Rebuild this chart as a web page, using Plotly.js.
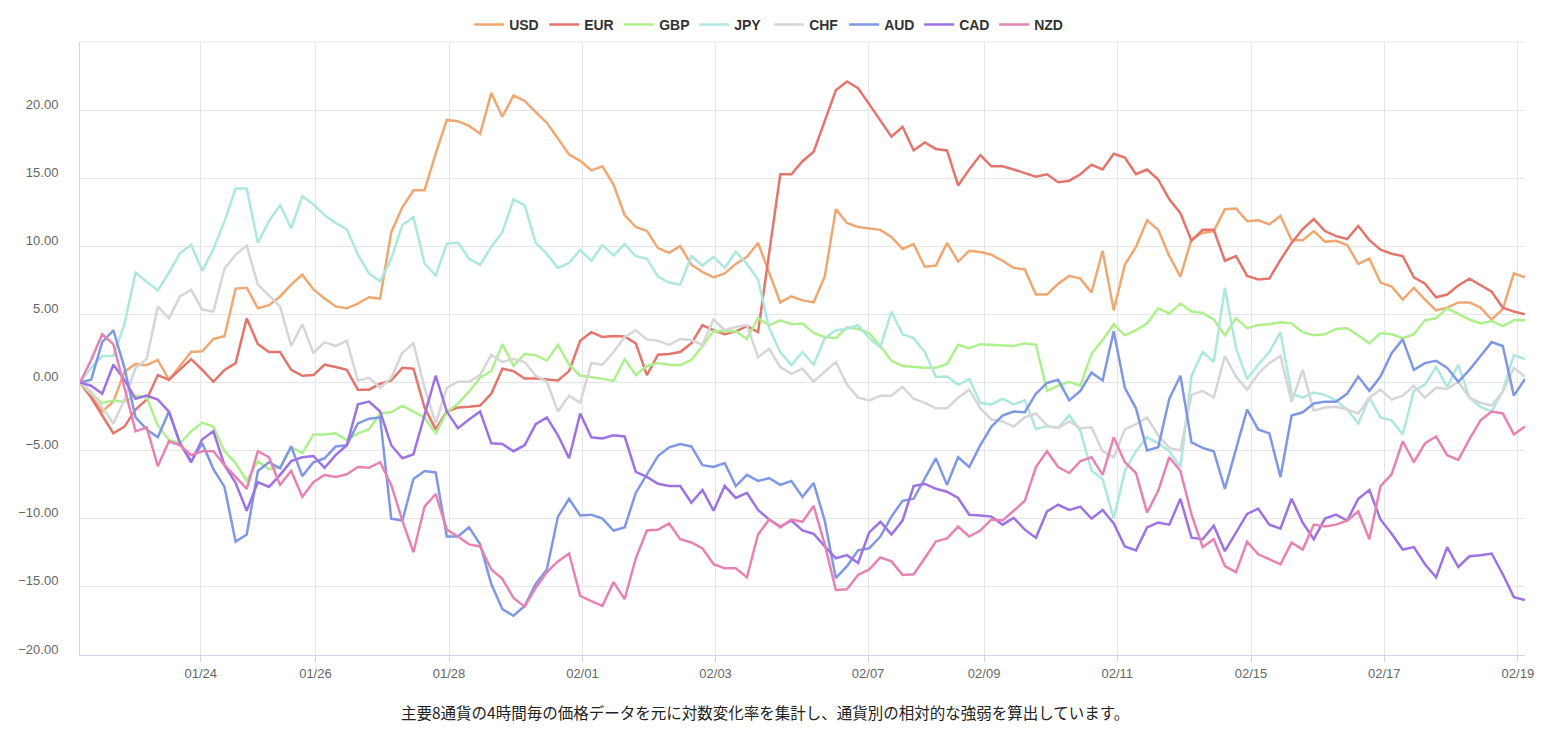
<!DOCTYPE html>
<html>
<head>
<meta charset="utf-8">
<script src="https://cdn.plot.ly/plotly-3.0.1.min.js"></script>
<style>
html,body{margin:0;padding:0;background:#fff;}
#chart{width:1546px;height:736px;}
</style>
</head>
<body>
<div id="chart"></div>
<script>
// 4-hour currency strength index values
const currencies = ["USD","EUR","GBP","JPY","CHF","AUD","CAD","NZD"];

const usd = [0,-0.96,-2.13,-1.4,0.79,1.37,1.28,1.66,0.2,1.22,2.24,2.3,3.2,3.4,6.9,6.96,5.45,5.68,6.32,7.19,7.92,6.84,6.17,5.59,5.45,5.8,6.26,6.17,11.04,12.87,14.12,14.12,16.8,19.28,19.19,18.84,18.26,21.26,19.51,21.08,20.68,19.86,19.07,17.91,16.74,16.28,15.58,15.87,14.53,12.3,11.42,11.13,9.87,9.52,10.02,8.65,8.12,7.72,8.01,8.71,9.23,10.25,8.07,5.88,6.32,6.03,5.88,7.78,12.73,11.71,11.42,11.33,11.21,10.69,9.81,10.16,8.5,8.59,10.25,8.88,9.67,9.58,9.38,8.94,8.42,8.3,6.46,6.46,7.25,7.83,7.63,6.61,9.67,5.3,8.65,9.96,11.91,11.21,9.29,7.78,10.54,10.98,11.12,12.73,12.78,11.85,11.91,11.62,12.23,10.45,10.45,11.12,10.34,10.4,10.1,8.71,9.09,7.34,7.05,6.09,6.96,6.09,5.3,5.5,5.88,5.88,5.5,4.63,5.39,8.01,7.72];

const eur = [0,-1.1,-2.42,-3.73,-3.23,-1.98,-1.25,0.55,0.2,0.93,1.72,0.93,0.06,0.93,1.43,4.72,2.82,2.24,2.24,0.93,0.5,0.55,1.31,1.14,0.93,-0.52,-0.52,-0.09,0.15,1.08,1.02,-1.83,-3.44,-2.13,-1.83,-1.78,-1.69,-0.82,1.02,0.84,0.29,0.29,0.2,0.15,0.84,3.06,3.7,3.35,3.41,3.38,2.88,0.55,2.04,2.1,2.24,2.88,4.22,3.84,3.55,3.76,4.14,3.7,9.5,15.29,15.29,16.25,16.95,19.28,21.46,22.1,21.61,20.44,19.28,18.05,18.78,17.04,17.62,17.15,17.04,14.47,15.64,16.7,15.87,15.87,15.64,15.35,15.11,15.29,14.71,14.82,15.29,15.99,15.64,16.8,16.51,15.29,15.64,14.91,13.45,12.43,10.4,11.21,11.21,8.94,9.29,7.83,7.57,7.63,9.0,10.25,11.27,12.0,11.12,10.75,10.54,11.5,10.45,9.76,9.46,9.29,7.72,7.25,6.26,6.46,7.13,7.63,7.13,6.67,5.5,5.21,5.01];

const gbp = [0,-0.82,-1.49,-1.31,-1.4,-0.96,-1.1,-3.15,-4.22,-4.46,-3.58,-2.94,-3.23,-5.04,-5.91,-7.22,-5.77,-6.35,-6.2,-4.75,-5.18,-3.81,-3.81,-3.73,-4.22,-3.73,-3.44,-2.27,-2.18,-1.69,-2.13,-2.56,-3.73,-2.18,-1.54,-0.67,0.35,0.84,2.82,1.22,2.1,2.01,1.6,2.77,1.31,0.5,0.41,0.26,0.12,1.72,0.55,1.22,1.43,1.31,1.28,1.66,2.68,3.79,3.76,3.76,3.2,4.72,4.22,4.57,4.28,4.34,3.64,3.35,3.26,4.05,3.93,3.64,2.68,1.6,1.22,1.14,1.08,1.08,1.37,2.77,2.53,2.82,2.77,2.77,2.68,2.88,2.77,-0.61,-0.23,0.06,-0.23,2.1,3.12,4.28,3.47,3.84,4.34,5.45,5.07,5.8,5.21,5.1,4.63,3.47,4.72,3.99,4.22,4.28,4.43,4.34,3.7,3.47,3.55,3.93,3.99,3.47,2.88,3.64,3.55,3.26,3.55,4.57,4.72,5.45,5.01,4.63,4.34,4.51,4.14,4.57,4.57];

const jpy = [0,1.08,1.95,1.95,4.3,8.07,7.4,6.76,8.07,9.5,10.1,8.2,9.8,11.85,14.24,14.24,10.25,11.85,13.02,11.33,13.69,13.07,12.29,11.71,11.27,9.38,8.01,7.43,9.09,11.56,12.14,8.74,7.86,10.19,10.28,9.09,8.65,9.96,11.04,13.45,13.02,10.25,9.44,8.42,8.79,9.73,8.94,10.1,9.32,10.16,9.29,9.09,7.78,7.34,7.19,9.29,8.59,9.23,8.42,9.61,8.71,7.57,3.99,2.24,1.28,2.24,1.31,3.26,3.84,3.93,4.22,3.26,2.59,5.21,3.55,3.26,2.24,0.41,0.44,-0.17,0.26,-1.5,-1.6,-1.19,-1.6,-1.31,-3.41,-3.2,-3.32,-2.39,-3.55,-6.46,-7.1,-9.99,-6.49,-5.04,-4.02,-4.46,-5.04,-6.2,0.5,2.24,1.51,6.96,2.53,0.26,1.31,2.24,3.7,-0.82,-1.11,-0.73,-0.9,-1.31,-1.98,-3.0,-1.11,-2.56,-2.77,-3.81,-0.61,-0.15,1.14,-0.32,1.31,-1.11,-1.78,-2.13,-0.61,2.01,1.72];

const chf = [0,-0.67,-1.83,-3.0,-1.25,1.08,1.72,5.59,4.72,6.32,6.81,5.36,5.21,8.36,9.38,10.05,7.19,6.38,5.59,2.68,4.28,2.18,2.97,2.68,3.06,0.15,0.35,-0.38,0.35,2.18,2.88,-0.38,-3.0,-0.38,0.06,0.06,0.55,2.04,1.51,1.72,1.51,0.5,0.06,-2.13,-0.96,-1.49,1.43,1.31,2.24,3.35,3.84,3.17,3.06,2.77,3.2,3.12,2.77,4.63,3.84,4.08,4.22,1.86,2.48,1.14,0.64,1.02,0.06,0.79,1.51,-0.15,-1.11,-1.31,-0.96,-0.96,-0.32,-1.19,-1.49,-1.89,-1.89,-1.11,-0.52,-1.9,-2.71,-2.85,-3.23,-2.56,-2.27,-3.15,-3.35,-2.85,-3.35,-3.29,-5.04,-5.48,-3.44,-3.06,-2.56,-3.87,-4.8,-4.98,-0.9,-0.61,-1.11,1.95,0.44,-0.52,0.64,1.43,1.95,-1.4,0.93,-2.07,-1.83,-1.78,-1.98,-2.27,-1.11,-0.52,-1.25,-0.96,-0.23,-1.11,-0.38,-0.47,0.06,-1.11,-1.49,-1.69,-0.67,1.08,0.44];

const aud = [0,0.2,2.97,3.84,1.08,-2.56,-3.44,-4.02,-2.13,-4.46,-5.77,-4.46,-6.35,-7.66,-11.68,-11.15,-6.49,-5.85,-6.29,-4.69,-6.87,-5.85,-5.56,-4.69,-4.6,-3.0,-2.65,-2.56,-9.99,-10.13,-7.08,-6.49,-6.6,-11.3,-11.3,-10.63,-11.88,-14.79,-16.63,-17.12,-16.4,-14.79,-13.72,-9.84,-8.53,-9.76,-9.7,-9.99,-10.86,-10.63,-8.1,-6.73,-5.39,-4.75,-4.51,-4.69,-6.06,-6.2,-5.91,-7.6,-6.78,-7.22,-7.02,-7.51,-7.22,-8.39,-7.37,-10.13,-14.36,-13.48,-12.32,-12.17,-11.3,-9.84,-8.68,-8.53,-7.08,-5.56,-7.51,-5.48,-6.2,-4.6,-3.23,-2.42,-2.13,-2.18,-0.82,-0.03,0.2,-1.31,-0.61,0.73,0.15,3.76,-0.38,-1.89,-4.98,-4.75,-1.19,0.5,-4.4,-4.8,-5.04,-7.8,-4.89,-1.98,-3.44,-3.73,-6.93,-2.42,-2.18,-1.54,-1.4,-1.4,-0.82,0.44,-0.61,0.44,2.15,3.17,0.93,1.43,1.6,1.08,0.06,0.93,1.95,2.97,2.68,-0.96,0.26];

const cad = [0,-0.23,-0.82,1.31,0.2,-1.19,-0.96,-1.25,-2.13,-4.46,-5.85,-4.16,-3.58,-6.06,-7.37,-9.41,-7.31,-7.66,-6.78,-5.77,-5.48,-5.39,-6.26,-5.33,-4.6,-1.6,-1.4,-2.13,-4.6,-5.56,-5.27,-2.42,0.5,-2.13,-3.35,-2.71,-2.13,-4.46,-4.51,-5.04,-4.6,-3.06,-2.56,-3.87,-5.56,-2.27,-4.02,-4.11,-3.87,-3.96,-6.55,-6.93,-7.43,-7.6,-7.6,-8.82,-7.89,-9.41,-7.6,-8.47,-8.1,-9.35,-10.05,-10.57,-10.13,-10.86,-11.1,-12.03,-12.9,-12.67,-13.25,-11.0,-10.22,-11.15,-10.13,-7.6,-7.43,-7.8,-8.01,-8.47,-9.7,-9.76,-9.84,-10.43,-9.93,-10.8,-11.39,-9.46,-8.97,-9.35,-9.11,-9.99,-9.35,-10.34,-12.03,-12.32,-10.63,-10.28,-10.43,-8.53,-11.39,-11.5,-10.51,-12.38,-11.0,-9.64,-9.26,-10.43,-10.72,-8.53,-10.28,-11.5,-9.99,-9.7,-10.13,-8.53,-7.89,-10.05,-11.1,-12.26,-12.08,-13.34,-14.3,-12.08,-13.54,-12.75,-12.67,-12.55,-14.07,-15.75,-15.96];

const nzd = [0,1.66,3.55,2.82,-0.38,-3.58,-3.29,-6.14,-4.31,-4.6,-5.33,-5.04,-5.04,-6.06,-6.93,-7.8,-5.04,-5.48,-7.51,-6.49,-8.39,-7.31,-6.78,-6.93,-6.73,-6.2,-6.26,-5.85,-7.51,-10.13,-12.46,-9.11,-8.18,-10.8,-11.3,-11.88,-12.03,-13.72,-14.41,-15.81,-16.45,-15.08,-13.92,-13.13,-12.55,-15.66,-16.04,-16.4,-14.65,-15.9,-12.9,-10.86,-10.8,-10.34,-11.5,-11.74,-12.17,-13.34,-13.63,-13.63,-14.3,-11.15,-10.05,-10.63,-10.05,-10.22,-9.06,-11.88,-15.23,-15.17,-14.12,-13.72,-12.84,-13.13,-14.12,-14.07,-12.9,-11.68,-11.44,-10.57,-11.3,-10.86,-10.05,-10.13,-9.41,-8.68,-6.2,-5.04,-6.2,-6.64,-5.77,-5.48,-6.78,-4.02,-5.85,-6.64,-9.55,-7.95,-5.48,-6.49,-9.7,-12.08,-11.5,-13.48,-13.92,-11.68,-12.61,-12.96,-13.34,-11.74,-12.26,-10.43,-10.57,-10.43,-10.13,-9.46,-11.5,-7.6,-6.73,-4.31,-5.85,-4.46,-3.96,-5.33,-5.68,-4.16,-2.77,-2.13,-2.27,-3.81,-3.23];

// date tick labels and their positions on the 4-hour sample index
const tickLabels = ["01/24","01/26","01/28","02/01","02/03","02/07","02/09","02/11","02/15","02/17","02/19"];
const tickPos = [10.86,21.18,33.2,45.2,57.18,70.9,81.34,93.32,105.35,117.34,129.36];

const colors = ["#efa872","#e4756c","#aef08c","#ade8de","#d6d6d6","#7f98e4","#9e72e3","#e683b4"];
const series = [usd, eur, gbp, jpy, chf, aud, cad, nzd];

const traces = series.map((vals, k) => ({
  type: "scatter",
  mode: "lines",
  name: currencies[k],
  x: vals.map((_, i) => i),
  y: vals,
  line: {color: colors[k], width: 2.5},
  hovertemplate: "%{y:.2f}<extra>" + currencies[k] + "</extra>"
}));

const layout = {
  width: 1546,
  height: 736,
  margin: {l: 80, r: 21, t: 42, b: 81},
  paper_bgcolor: "#ffffff",
  plot_bgcolor: "#ffffff",
  font: {family: "Liberation Sans, Arial, sans-serif", color: "#666666", size: 13},
  showlegend: true,
  legend: {
    orientation: "h",
    xref: "container", yref: "container",
    x: 0.4975, xanchor: "center",
    y: 0.966, yanchor: "middle",
    font: {size: 14, color: "#333333", weight: "bold", family: "Liberation Sans, Arial, sans-serif"},
    itemwidth: 30,
    entrywidth: 30,
    traceorder: "normal",
    bgcolor: "rgba(0,0,0,0)"
  },
  xaxis: {
    type: "linear",
    range: [0, 130],
    tickmode: "array",
    tickvals: tickPos,
    ticktext: tickLabels,
    showgrid: true,
    gridcolor: "#e6e6e6",
    gridwidth: 1,
    zeroline: false,
    showline: true,
    linecolor: "#ccd6eb",
    linewidth: 1,
    ticks: "outside",
    ticklen: 6,
    tickcolor: "#ccd6eb",
    tickfont: {size: 13, color: "#666666"},
    automargin: false,
    fixedrange: true
  },
  yaxis: {
    range: [-20, 25],
    tickmode: "array",
    tickvals: [-20, -15, -10, -5, 0, 5, 10, 15, 20],
    tickformat: ".2f",
    showgrid: true,
    gridcolor: "#e6e6e6",
    gridwidth: 1,
    zeroline: false,
    showline: true,
    linecolor: "#ccd6eb",
    linewidth: 1,
    ticks: "",
    ticklabelstandoff: 18,
    ticklabelshift: -6,
    tickfont: {size: 13, color: "#666666"},
    automargin: false,
    fixedrange: true
  },
  shapes: [
    {type: "line", xref: "paper", yref: "paper", x0: 0, x1: 1, y0: 1, y1: 1,
     line: {color: "#e6e6e6", width: 1}, layer: "below"}
  ],
  annotations: [
    {text: "主要8通貨の4時間毎の価格データを元に対数変化率を集計し、通貨別の相対的な強弱を算出しています。",
     xref: "paper", yref: "paper", x: 0.474, y: -0.093, xanchor: "center", yanchor: "middle",
     showarrow: false,
     font: {family: "Noto Sans CJK JP, sans-serif", size: 15.5, color: "#222222"}}
  ]
};

Plotly.newPlot("chart", traces, layout, {displayModeBar: false, responsive: false});
</script>
</body>
</html>
